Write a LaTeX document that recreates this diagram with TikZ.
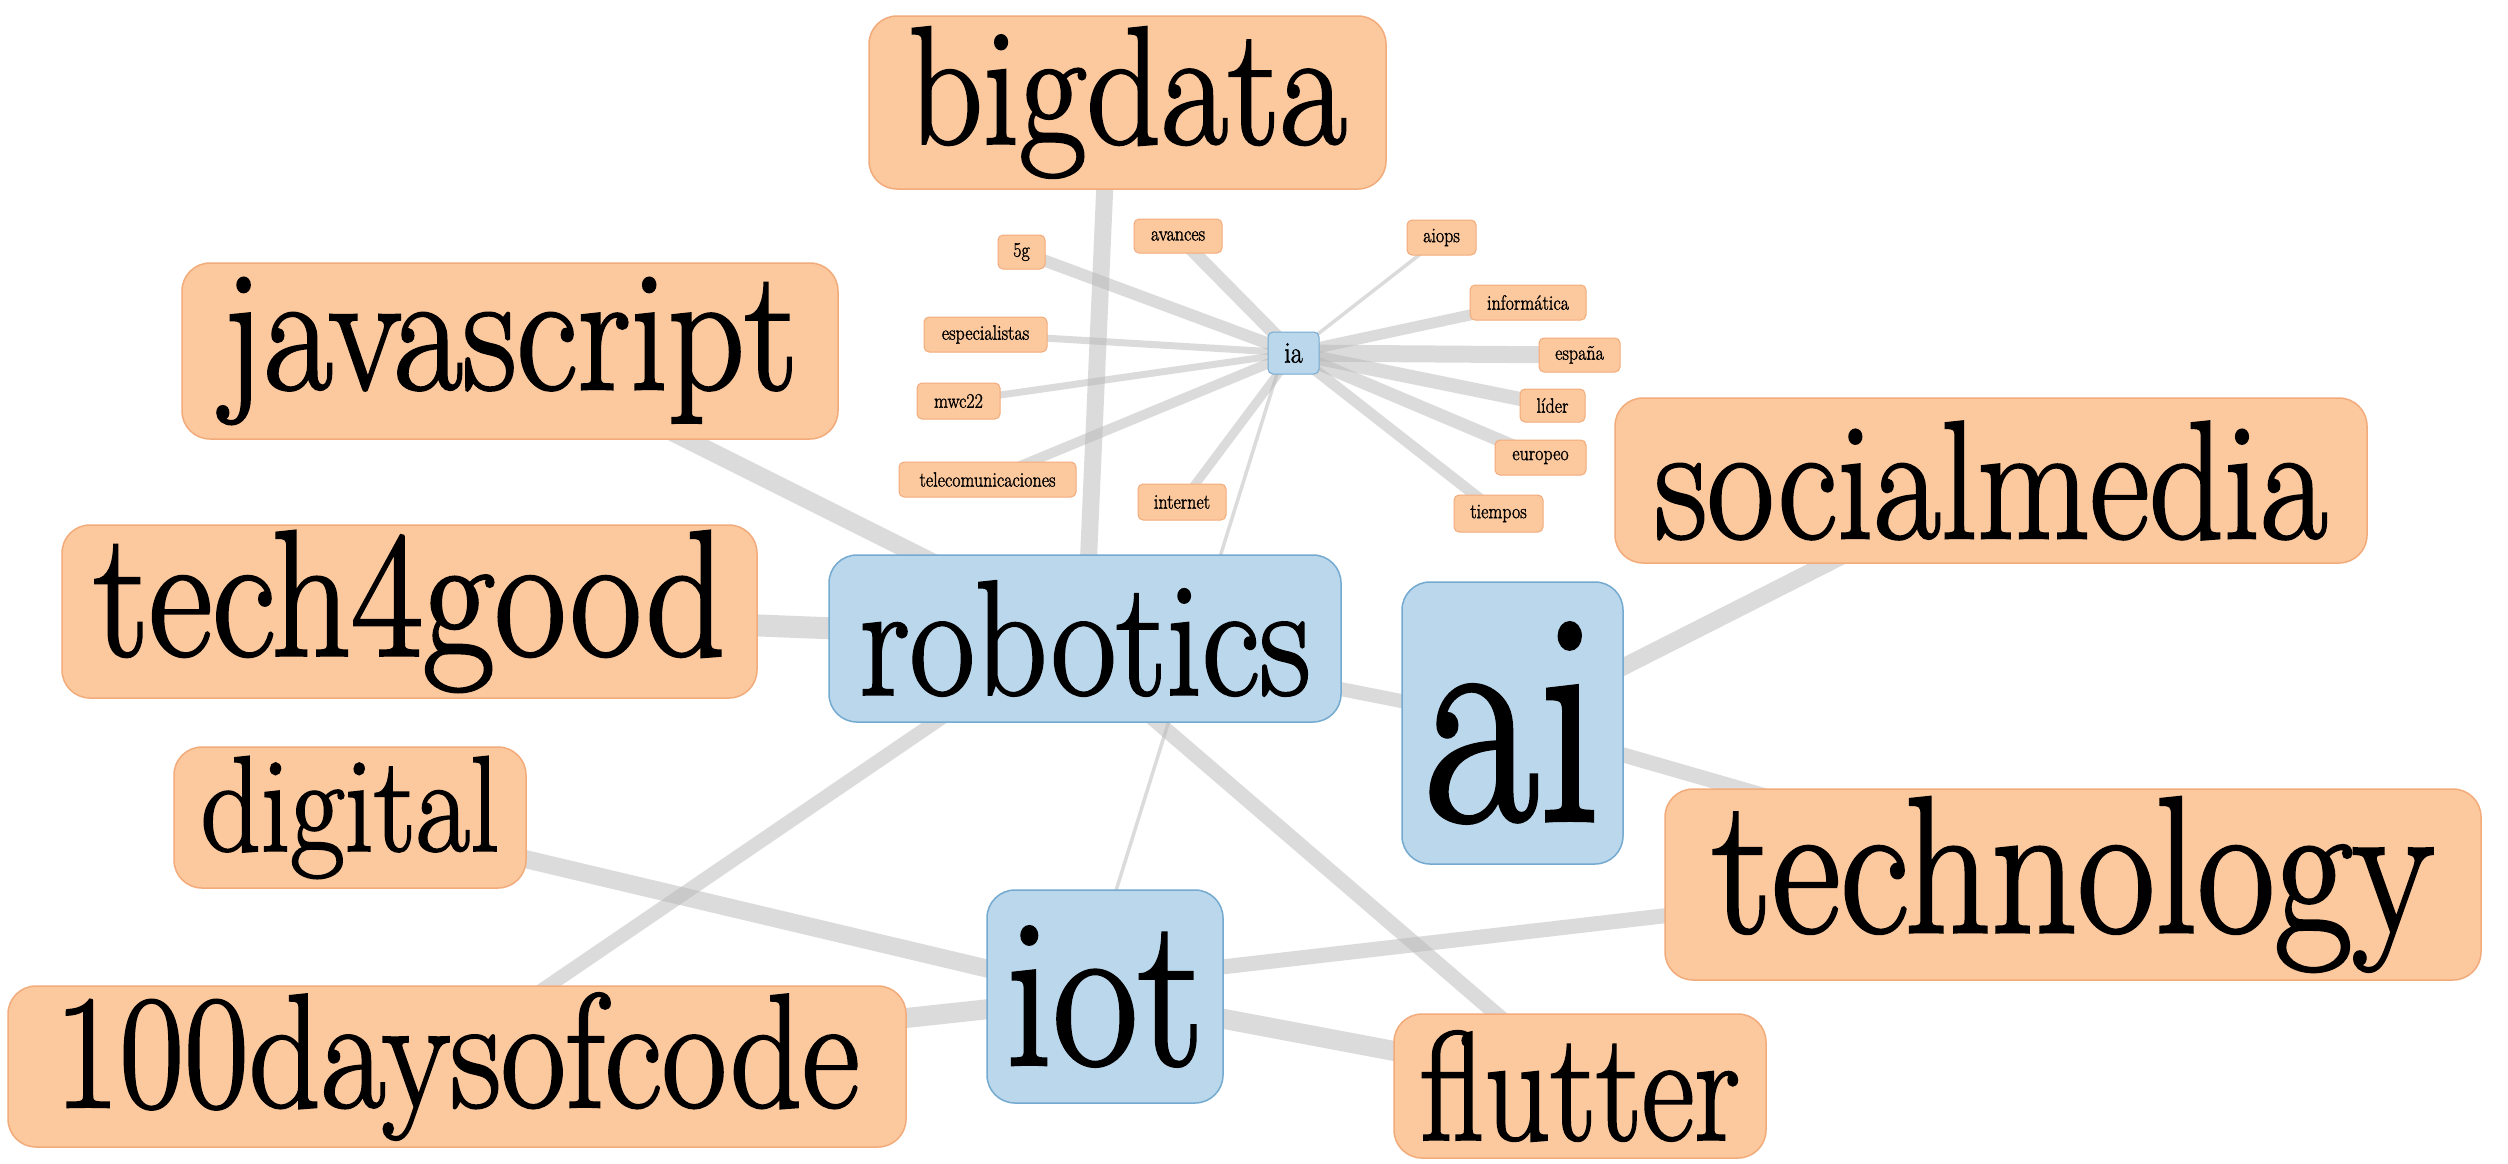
\documentclass[tikz,border=0pt]{standalone}
\usepackage{fontspec}
\setmainfont{Latin Modern Roman}[FakeBold=1.6]
\usepackage{graphicx}
\usetikzlibrary{backgrounds}
\definecolor{ofill}{HTML}{FCC89D}
\definecolor{odraw}{HTML}{F2AB7B}
\definecolor{bfill}{HTML}{BBD7EC}
\definecolor{bdraw}{HTML}{74AAD0}
\definecolor{edgegray}{HTML}{B9B9B9}
\newcommand{\vs}[1]{\scalebox{1}[1.15]{#1}}
\newcommand{\fs}[1]{\fontsize{#1}{#1}\selectfont}
\begin{document}
\begin{tikzpicture}[x=1pt,y=-1pt,
  obig/.style={draw=odraw, fill=ofill, line width=1.5pt, rounded corners=28pt, inner sep=0pt},
  bbig/.style={draw=bdraw, fill=bfill, line width=1.5pt, rounded corners=28pt, inner sep=0pt},
  osmall/.style={draw=odraw, fill=ofill, line width=1pt, rounded corners=5pt, inner sep=0pt, font=\fs{18}},
  bsmall/.style={draw=bdraw, fill=bfill, line width=1pt, rounded corners=5pt, inner sep=0pt},
  ed/.style={draw=edgegray, draw opacity=0.5, line width=#1}]
\useasboundingbox (0,0) rectangle (2508,1163);
% big nodes
\node[obig, minimum width=517pt, minimum height=173pt, font=\fs{146}] (bigdata) at (1127.5,102.5) {\vs{bigdata}};
\node[obig, minimum width=656pt, minimum height=176pt, font=\fs{150}] (javascript) at (510,351) {\vs{javascript}};
\node[obig, minimum width=695pt, minimum height=173pt, font=\fs{156}] (tech4good) at (409.5,611.5) {\vs{tech4good}};
\node[bbig, minimum width=512pt, minimum height=167pt, font=\fs{142}] (robotics) at (1085,638.5) {\vs{robotics}};
\node[bbig, minimum width=221pt, minimum height=282pt, font=\fs{250}] (ai) at (1512.5,723) {\scalebox{1}[1.22]{ai}};
\node[obig, minimum width=752pt, minimum height=165pt, font=\fs{146}] (socialmedia) at (1991,480.5) {\vs{socialmedia}};
\node[obig, minimum width=352pt, minimum height=141pt, font=\fs{118}] (digital) at (350,817.5) {\vs{digital}};
\node[obig, minimum width=816pt, minimum height=191pt, font=\fs{169}] (technology) at (2073,884.5) {\vs{technology}};
\node[obig, minimum width=898pt, minimum height=161pt, font=\fs{141}] (hundred) at (457,1066.5) {\vs{100daysofcode}};
\node[bbig, minimum width=236pt, minimum height=213pt, font=\fs{186}] (iot) at (1105,996.5) {\vs{iot}};
\node[obig, minimum width=372pt, minimum height=144pt, font=\fs{129}] (flutter) at (1580,1086) {\scalebox{1}[1.2]{flutter}};
% small nodes
\node[osmall, minimum width=47pt, minimum height=34pt] (g5) at (1021.5,252) {\vs{5g}};
\node[osmall, minimum width=88pt, minimum height=34pt] (avances) at (1178,236) {\vs{avances}};
\node[osmall, minimum width=69pt, minimum height=35pt] (aiops) at (1441.5,237.5) {\vs{aiops}};
\node[osmall, minimum width=116pt, minimum height=35pt] (informatica) at (1528,302.5) {\vs{informática}};
\node[osmall, minimum width=123pt, minimum height=35pt] (especialistas) at (985.5,334.5) {\vs{especialistas}};
\node[bsmall, minimum width=51pt, minimum height=42pt, font=\fs{26}] (ia) at (1293.5,353) {\vs{ia}};
\node[osmall, minimum width=81pt, minimum height=34pt] (espana) at (1579.5,355) {\vs{españa}};
\node[osmall, minimum width=83pt, minimum height=36pt] (mwc) at (958.5,401) {\vs{mwc22}};
\node[osmall, minimum width=65pt, minimum height=33pt] (lider) at (1552.5,405.5) {\vs{líder}};
\node[osmall, minimum width=91pt, minimum height=35pt] (europeo) at (1540.5,457.5) {\vs{europeo}};
\node[osmall, minimum width=177pt, minimum height=35pt] (telecom) at (987.5,479.5) {\vs{telecomunicaciones}};
\node[osmall, minimum width=88pt, minimum height=36pt] (internet) at (1182,502) {\vs{internet}};
\node[osmall, minimum width=89pt, minimum height=37pt] (tiempos) at (1498.5,513.5) {\vs{tiempos}};
% edges
\begin{pgfonlayer}{background}
\fill[white] (0,0) rectangle (2508,1163);
\draw[ed=17pt] ([xshift=-19pt]bigdata.center) -- (robotics.center);
\draw[ed=18pt] (javascript.center) -- (robotics.center);
\draw[ed=22pt] (tech4good.center) -- (robotics.center);
\draw[ed=14pt] (robotics.center) -- (ai.center);
\draw[ed=14pt] ([xshift=-27pt]robotics.center) -- ([xshift=-27pt]hundred.center);
\draw[ed=15pt] ([xshift=-25pt]robotics.center) -- (flutter.center);
\draw[ed=3.5pt] ([xshift=-10pt]ia.center) -- ([xshift=-22pt]iot.center);
\draw[ed=17pt] (ai.center) -- (socialmedia.center);
\draw[ed=15pt] (ai.center) -- (technology.center);
\draw[ed=18pt] (digital.center) -- (iot.center);
\draw[ed=20pt] (hundred.center) -- (iot.center);
\draw[ed=15pt] ([yshift=16pt]iot.center) -- ([yshift=16pt]technology.center);
\draw[ed=20pt] (iot.center) -- (flutter.center);
\draw[ed=12pt] (ia.center) -- (g5.center);
\draw[ed=13pt] (ia.center) -- (avances.center);
\draw[ed=3.5pt] (ia.center) -- (aiops.center);
\draw[ed=11pt] (ia.center) -- (informatica.center);
\draw[ed=7pt] (ia.center) -- (especialistas.center);
\draw[ed=7pt] (ia.center) -- (mwc.center);
\draw[ed=10pt] (ia.center) -- (telecom.center);
\draw[ed=9pt] (ia.center) -- (internet.center);
\draw[ed=17pt] (ia.center) -- (espana.center);
\draw[ed=14pt] (ia.center) -- (lider.center);
\draw[ed=13pt] (ia.center) -- (europeo.center);
\draw[ed=11pt] (ia.center) -- (tiempos.center);
\end{pgfonlayer}
\end{tikzpicture}
\end{document}
